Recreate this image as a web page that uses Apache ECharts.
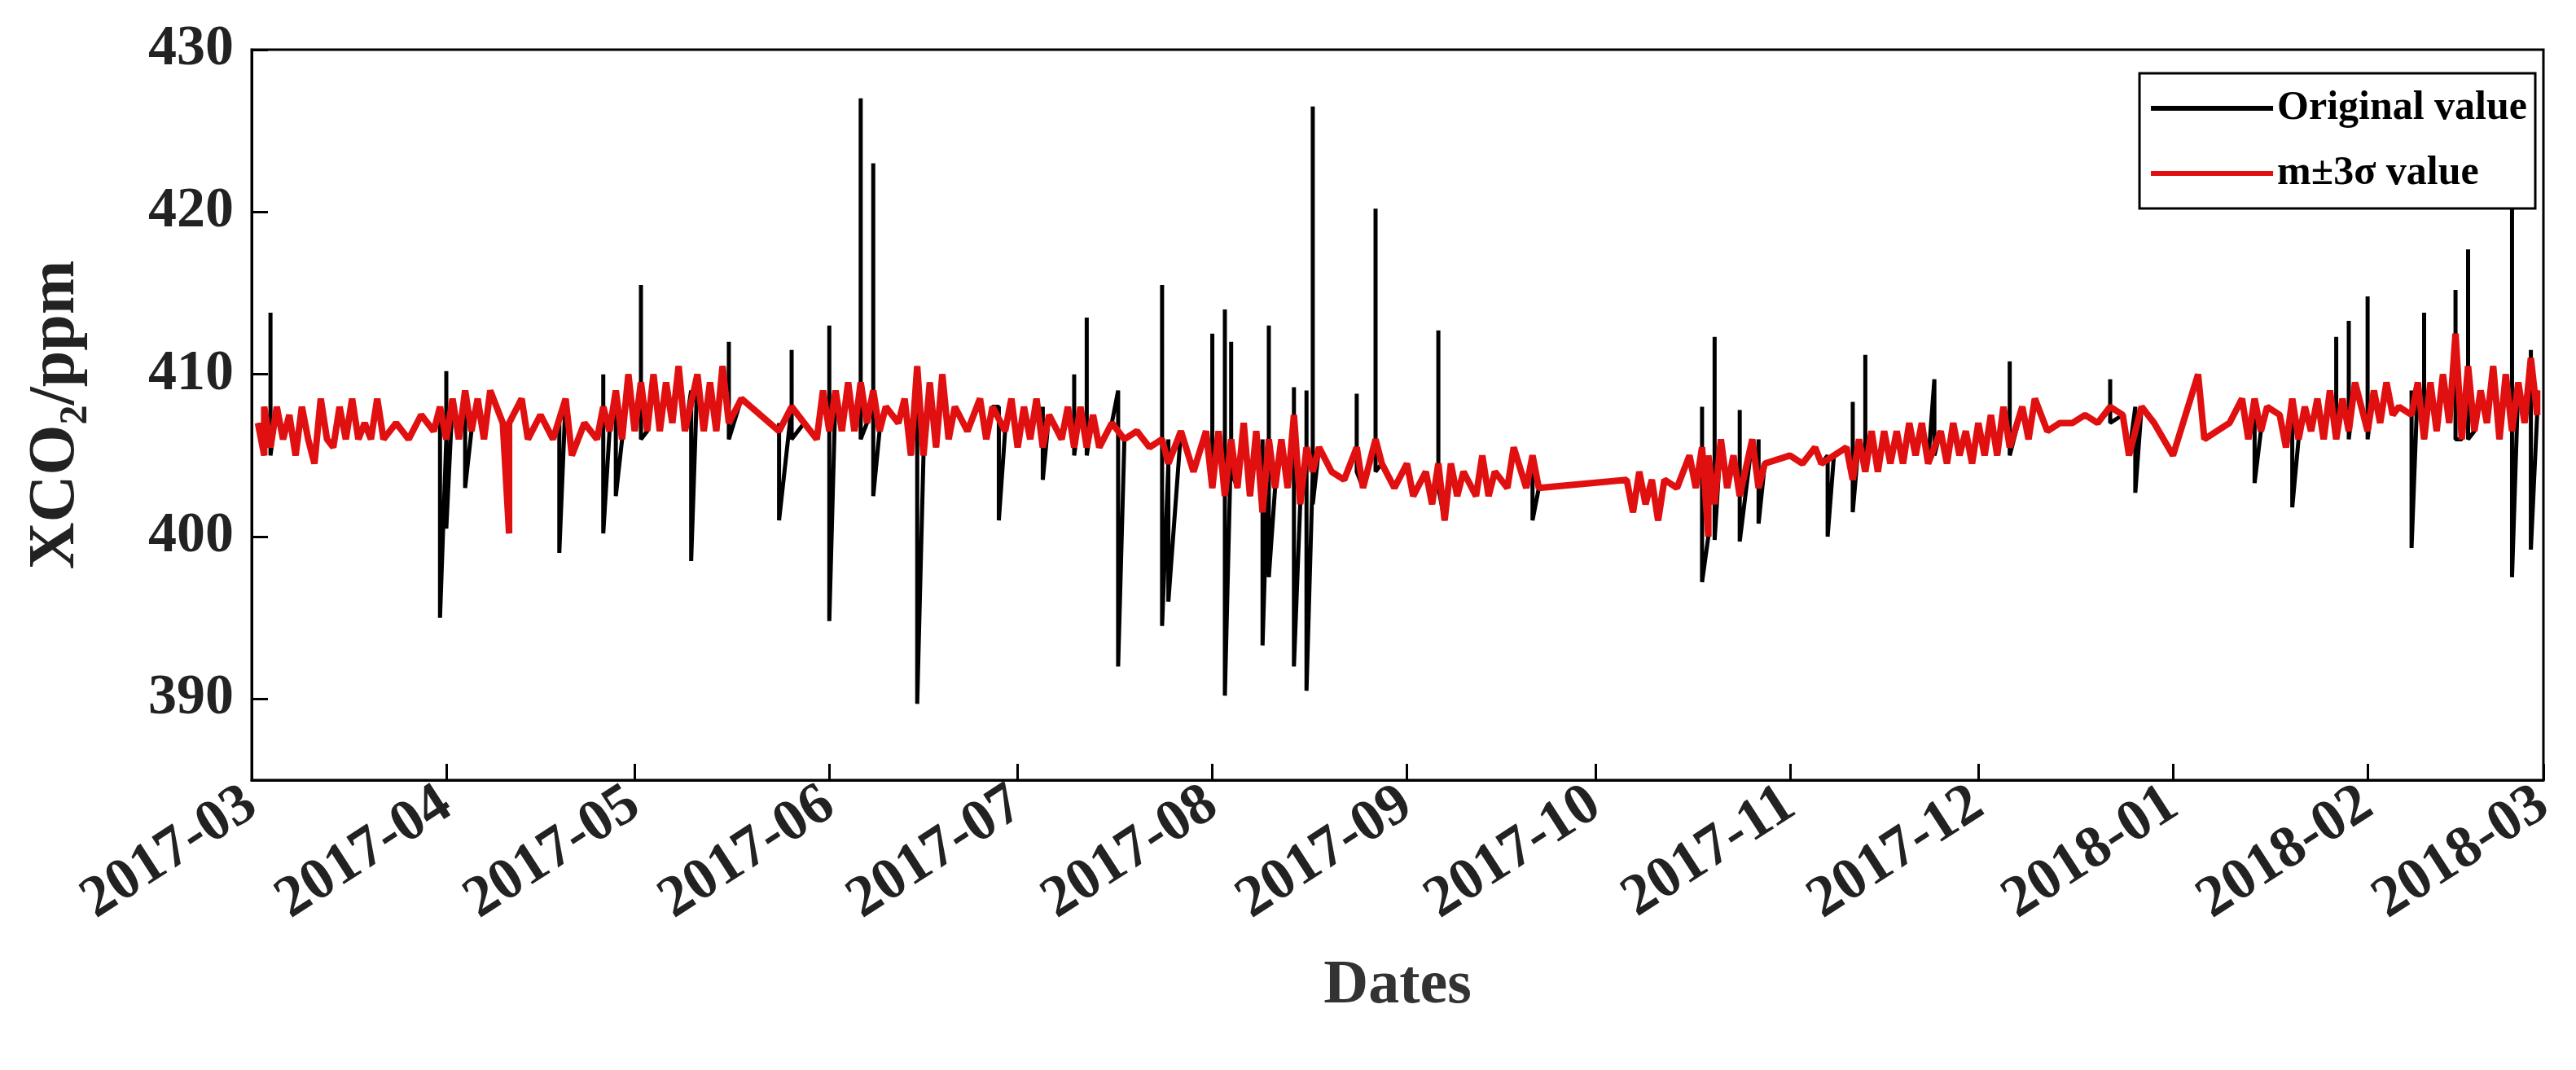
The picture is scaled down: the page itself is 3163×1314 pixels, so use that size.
<!DOCTYPE html>
<html>
<head>
<meta charset="utf-8">
<script src="https://cdn.jsdelivr.net/npm/echarts@6/dist/echarts.min.js"></script>
<style>html,body{margin:0;background:#fff}#chart{width:3163px;height:1314px}</style>
</head>
<body>
<div id="chart"></div>
<script>
// m±3σ filtered series (red)
const redPoints = [
  ["2017-03-02",407],["2017-03-03",405],["2017-03-03",408],["2017-03-04",405.5],["2017-03-05",408],["2017-03-06",406],["2017-03-07",407.5],["2017-03-08",405],["2017-03-09",408],["2017-03-10",406],["2017-03-11",404.5],["2017-03-12",408.5],["2017-03-13",406],["2017-03-14",405.5],["2017-03-15",408],["2017-03-16",406],["2017-03-17",408.5],["2017-03-18",406],["2017-03-19",407],["2017-03-20",406],["2017-03-21",408.5],["2017-03-22",406],["2017-03-24",407],["2017-03-26",406],["2017-03-28",407.5],["2017-03-30",406.5],["2017-03-31",408],
  ["2017-04-01",406],["2017-04-02",408.5],["2017-04-03",406],["2017-04-04",409],["2017-04-05",406.5],["2017-04-06",408.5],["2017-04-07",406],["2017-04-08",409],["2017-04-10",407],["2017-04-11",400.2],["2017-04-11",407],["2017-04-13",408.5],["2017-04-14",406],["2017-04-16",407.5],["2017-04-18",406],["2017-04-20",408.5],["2017-04-21",405],["2017-04-23",407],["2017-04-25",406],["2017-04-26",408],["2017-04-27",406.5],["2017-04-28",409],["2017-04-29",406],["2017-04-30",410],
  ["2017-05-01",406.5],["2017-05-02",409.5],["2017-05-03",406.5],["2017-05-04",410],["2017-05-05",406.5],["2017-05-06",409.5],["2017-05-07",407],["2017-05-08",410.5],["2017-05-09",406.5],["2017-05-11",410],["2017-05-12",406.5],["2017-05-13",409.5],["2017-05-14",406.5],["2017-05-15",410.5],["2017-05-16",407],["2017-05-18",408.5],["2017-05-21",407.5],["2017-05-24",406.5],["2017-05-26",408],["2017-05-28",407],["2017-05-30",406],["2017-05-31",409],
  ["2017-06-01",406.5],["2017-06-02",409],["2017-06-03",406.5],["2017-06-04",409.5],["2017-06-05",406.5],["2017-06-06",409.5],["2017-06-07",407],["2017-06-08",409],["2017-06-09",406.5],["2017-06-10",408],["2017-06-12",407],["2017-06-13",408.5],["2017-06-14",405],["2017-06-15",410.5],["2017-06-16",405],["2017-06-17",409.5],["2017-06-18",405.5],["2017-06-19",410],["2017-06-20",406],["2017-06-21",408],["2017-06-23",406.5],["2017-06-25",408.5],["2017-06-26",406],["2017-06-27",408],["2017-06-29",406.5],["2017-06-30",408.5],
  ["2017-07-01",405.5],["2017-07-02",408],["2017-07-03",406],["2017-07-04",408.5],["2017-07-05",405.5],["2017-07-06",407.5],["2017-07-08",406],["2017-07-09",408],["2017-07-10",405.5],["2017-07-11",408],["2017-07-12",405.5],["2017-07-13",407.5],["2017-07-14",405.5],["2017-07-16",407],["2017-07-18",406],["2017-07-20",406.5],["2017-07-22",405.5],["2017-07-24",406],["2017-07-25",404.5],["2017-07-27",406.5],["2017-07-29",404],["2017-07-31",406.5],
  ["2017-08-01",403],["2017-08-02",406.5],["2017-08-03",402.5],["2017-08-04",406],["2017-08-05",403],["2017-08-06",407],["2017-08-07",402.5],["2017-08-08",406.5],["2017-08-09",401.5],["2017-08-10",406],["2017-08-11",403],["2017-08-12",406],["2017-08-13",403],["2017-08-14",407.5],["2017-08-15",402],["2017-08-16",405.5],["2017-08-17",404],["2017-08-18",405.5],["2017-08-20",404],["2017-08-22",403.5],["2017-08-24",405.5],["2017-08-25",403],["2017-08-27",406],["2017-08-28",404.5],["2017-08-30",403],
  ["2017-09-01",404.5],["2017-09-02",402.5],["2017-09-04",404],["2017-09-05",402],["2017-09-06",404.5],["2017-09-07",401],["2017-09-08",404.5],["2017-09-09",402.5],["2017-09-10",404],["2017-09-12",402.5],["2017-09-13",405],["2017-09-14",402.5],["2017-09-15",404],["2017-09-17",403],["2017-09-18",405.5],["2017-09-20",403],["2017-09-21",405],["2017-09-22",403],
  ["2017-10-06",403.5],["2017-10-07",401.5],["2017-10-08",404],["2017-10-09",402],["2017-10-10",403.5],["2017-10-11",401],["2017-10-12",403.5],["2017-10-14",403],["2017-10-16",405],["2017-10-17",403],["2017-10-18",405.5],["2017-10-19",400],["2017-10-19",405],["2017-10-20",402],["2017-10-21",406],["2017-10-22",403],["2017-10-23",405],["2017-10-24",402.5],["2017-10-26",406],["2017-10-27",403],["2017-10-28",404.5],
  ["2017-11-01",405],["2017-11-03",404.5],["2017-11-05",405.5],["2017-11-06",404.5],["2017-11-08",405],["2017-11-10",405.5],["2017-11-11",403.5],["2017-11-12",406],["2017-11-13",404],["2017-11-14",406.5],["2017-11-15",404],["2017-11-16",406.5],["2017-11-17",404.5],["2017-11-18",406.5],["2017-11-19",404.5],["2017-11-20",407],["2017-11-21",405],["2017-11-22",407],["2017-11-23",404.5],["2017-11-25",406.5],["2017-11-26",404.5],["2017-11-27",407],["2017-11-28",405],["2017-11-29",406.5],["2017-11-30",404.5],
  ["2017-12-01",407],["2017-12-02",405],["2017-12-03",407.5],["2017-12-04",405],["2017-12-05",408],["2017-12-06",405.5],["2017-12-08",408],["2017-12-09",406],["2017-12-10",408.5],["2017-12-12",406.5],["2017-12-14",407],["2017-12-16",407],["2017-12-18",407.5],["2017-12-20",407],["2017-12-22",408],["2017-12-24",407.5],["2017-12-25",405],["2017-12-27",408],["2017-12-29",407],
  ["2018-01-01",405],["2018-01-03",407.5],["2018-01-05",410],["2018-01-06",406],["2018-01-08",406.5],["2018-01-10",407],["2018-01-12",408.5],["2018-01-13",406],["2018-01-14",408.5],["2018-01-15",406.5],["2018-01-16",408],["2018-01-18",407.5],["2018-01-19",405.5],["2018-01-20",408.5],["2018-01-21",406],["2018-01-22",408],["2018-01-23",406.5],["2018-01-24",408.5],["2018-01-25",406],["2018-01-26",409],["2018-01-27",406],["2018-01-28",408.5],["2018-01-29",406.5],["2018-01-30",409.5],
  ["2018-02-01",406.5],["2018-02-02",409],["2018-02-03",407],["2018-02-04",409.5],["2018-02-05",407.5],["2018-02-06",408],["2018-02-08",407.5],["2018-02-09",409.5],["2018-02-10",406],["2018-02-11",409.5],["2018-02-12",406.5],["2018-02-13",410],["2018-02-14",407],["2018-02-15",412.5],["2018-02-16",406],["2018-02-17",410.5],["2018-02-18",406.5],["2018-02-19",409],["2018-02-20",407],["2018-02-21",410.5],["2018-02-22",406],["2018-02-23",410],["2018-02-24",406.5],["2018-02-25",409.5],["2018-02-26",407],["2018-02-27",411],["2018-02-28",407.5],["2018-02-28",409]
];
// outliers in the original series: [date, high, low]
const spikes = [
  ["2017-03-04",413.8,405],["2017-03-31",408,395],["2017-04-01",410.2,400.5],["2017-04-04",409,403],["2017-04-19",407,399],
  ["2017-04-26",410,400.2],["2017-04-28",409,402.5],["2017-05-02",415.5,406],["2017-05-10",409,398.5],["2017-05-16",412,406],
  ["2017-05-24",407,401],["2017-05-26",411.5,406],["2017-06-01",413,394.8],["2017-06-06",427,406],["2017-06-08",423,402.5],
  ["2017-06-15",410.5,389.7],["2017-06-28",408,401],["2017-07-05",408,403.5],["2017-07-10",410,405],["2017-07-12",413.5,405],
  ["2017-07-17",409,392],["2017-07-24",415.5,394.5],["2017-07-25",406,396],["2017-08-01",412.5,403],["2017-08-03",414,390.2],
  ["2017-08-04",412,404],["2017-08-09",406,393.3],["2017-08-10",413,397.5],["2017-08-14",409.2,392],["2017-08-16",409,390.5],
  ["2017-08-17",426.5,402],["2017-08-24",408.8,404],["2017-08-27",420.2,404],["2017-09-06",412.7,403],["2017-09-21",405,401],
  ["2017-10-18",408,397.2],["2017-10-20",412.3,399.8],["2017-10-24",407.8,399.7],["2017-10-27",406,400.8],["2017-11-07",405,400],
  ["2017-11-11",408.3,401.5],["2017-11-13",411.2,404],["2017-11-24",409.7,405],["2017-12-06",410.8,405],["2017-12-22",409.7,407],
  ["2017-12-26",408,402.7],["2018-01-14",408,403.3],["2018-01-20",408,401.8],["2018-01-27",412.3,406],["2018-01-29",413.3,406],
  ["2018-02-01",414.8,406],["2018-02-08",409,399.3],["2018-02-10",413.8,406],["2018-02-15",415.2,406],["2018-02-17",417.7,406],
  ["2018-02-24",420.2,397.5],["2018-02-27",411.5,399.2]
];
const monthTicks = ["2017-03","2017-04","2017-05","2017-06","2017-07","2017-08","2017-09","2017-10","2017-11","2017-12","2018-01","2018-02","2018-03"];
const yTicks = [390, 400, 410, 420, 430];

const ts = s => Date.parse(s.length === 7 ? s + "-01T00:00:00Z" : s + "T00:00:00Z");
const redData = redPoints.map(p => [ts(p[0]), p[1]]);
const blackData = redPoints.map(p => [ts(p[0]), p[1]]);
spikes.forEach(s => {
  const t = ts(s[0]);
  let idx = blackData.length;
  for (let i = 0; i < blackData.length; i++) {
    if (blackData[i][0] > t) { idx = i; break; }
  }
  blackData.splice(idx, 0, [t, s[1]], [t, s[2]]);
});
const tickValues = monthTicks.map(ts);
const fmt = v => { const d = new Date(v); return d.getUTCFullYear() + "-" + String(d.getUTCMonth() + 1).padStart(2, "0"); };

const font = "Liberation Serif";
const chart = echarts.init(document.getElementById("chart"));
chart.setOption({
  animation: false,
  grid: { left: 309, right: 40, top: 61, bottom: 356, show: true, borderColor: "#000", borderWidth: 3 },
  legend: {
    right: 50, top: 90, orient: "vertical", itemWidth: 150, itemHeight: 6, itemGap: 30,
    backgroundColor: "#fff", borderColor: "#000", borderWidth: 3, padding: [18, 10, 18, 14],
    textStyle: { fontFamily: font, fontWeight: "bold", fontSize: 50, color: "#000" },
    data: [{ name: "Original value", icon: "rect" }, { name: "m±3σ value", icon: "rect" }]
  },
  xAxis: {
    type: "value", min: tickValues[0], max: tickValues[tickValues.length - 1],
    splitLine: { show: false },
    axisLine: { lineStyle: { color: "#000", width: 3 } },
    axisTick: { inside: true, length: 20, lineStyle: { color: "#000", width: 3 }, customValues: tickValues },
    axisLabel: {
      rotate: 33, fontFamily: font, fontWeight: "bold", fontSize: 72, color: "#222", margin: 24,
      formatter: fmt, customValues: tickValues
    },
    name: "Dates", nameLocation: "middle", nameGap: 215,
    nameTextStyle: { fontFamily: font, fontWeight: "bold", fontSize: 76, color: "#333" }
  },
  yAxis: {
    type: "value", min: 385, max: 430, interval: 10,
    splitLine: { show: false },
    axisLine: { show: true, lineStyle: { color: "#000", width: 3 } },
    axisTick: { inside: true, length: 20, lineStyle: { color: "#000", width: 3 }, customValues: yTicks },
    axisLabel: {
      fontFamily: font, fontWeight: "bold", fontSize: 70, color: "#222", margin: 22,
      customValues: yTicks
    },
    name: "XCO₂/ppm", nameLocation: "middle", nameGap: 200,
    nameTextStyle: { fontFamily: font, fontWeight: "bold", fontSize: 80, color: "#222" }
  },
  series: [
    { name: "Original value", type: "line", data: blackData, showSymbol: false, lineStyle: { color: "#000", width: 5 }, itemStyle: { color: "#000" } },
    { name: "m±3σ value", type: "line", data: redData, showSymbol: false, lineStyle: { color: "#e01010", width: 8 }, itemStyle: { color: "#e01010" } }
  ]
});
</script>
</body>
</html>
